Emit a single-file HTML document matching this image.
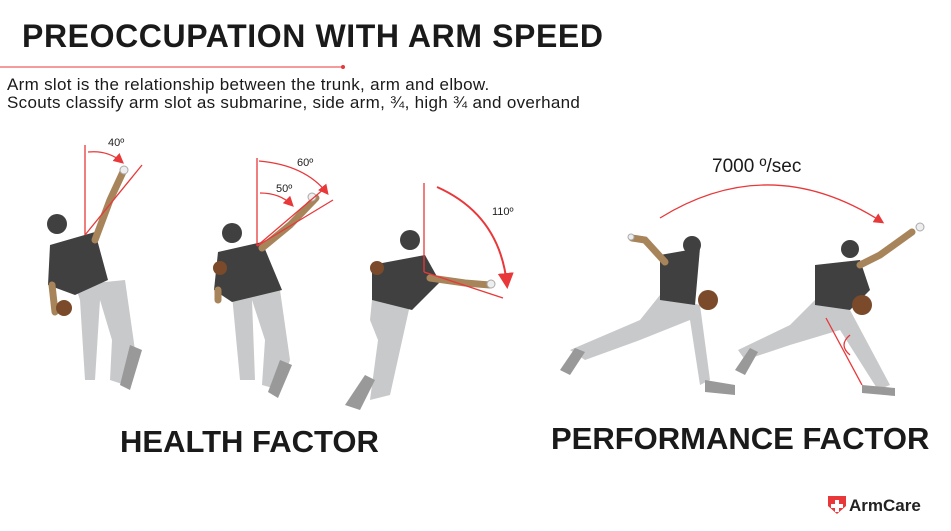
<!DOCTYPE html><html><head><meta charset="utf-8"><style>
body{margin:0;width:951px;height:531px;background:#fff;overflow:hidden;font-family:"Liberation Sans",sans-serif;position:relative;color:#1a1a1a}
.t{position:absolute;white-space:nowrap}
</style></head><body>
<div class="t" style="left:22px;top:18px;font-size:32px;font-weight:bold;letter-spacing:0.6px">PREOCCUPATION WITH ARM SPEED</div>
<div class="t" style="left:7px;top:76px;font-size:17px;line-height:18px;letter-spacing:0.3px">Arm slot is the relationship between the trunk, arm and elbow.<br>Scouts classify arm slot as submarine, side arm, ¾, high ¾ and overhand</div>
<div class="t" style="left:120px;top:424px;font-size:31px;font-weight:bold">HEALTH FACTOR</div>
<div class="t" style="left:551px;top:421px;font-size:31px;font-weight:bold">PERFORMANCE FACTOR</div>
<div class="t" style="left:712px;top:156px;font-size:19px">7000 º/sec</div>
<svg width="951" height="531" style="position:absolute;left:0;top:0">
<defs><marker id="a" markerWidth="8" markerHeight="8" refX="6" refY="4" orient="auto"><path d="M0,0L8,4L0,8z" fill="#e8383a"/></marker></defs>
<line x1="0" y1="67" x2="343" y2="67" stroke="#e8383a" stroke-width="1"/><circle cx="343" cy="67" r="2" fill="#e8383a"/>
<g font-size="11" fill="#222" font-family="Liberation Sans,sans-serif"><text x="108" y="146">40º</text><text x="297" y="166">60º</text><text x="276" y="192">50º</text><text x="492" y="215">110º</text></g>
<g fill="#c8c9cb"><path d="M75,285L125,280L135,350L125,385L110,380L112,340L100,300L95,380L85,380L80,300z"/><path d="M232,295L280,290L290,360L280,390L262,385L265,340L252,300L255,380L240,380z"/><path d="M372,300L410,305L400,350L390,395L370,400L378,340L370,320z"/><path d="M660,295L700,305L710,380L700,385L690,320L640,340L585,360L570,350L640,320z"/><path d="M815,300L850,310L890,385L878,390L840,330L790,345L745,360L738,350L790,325z"/></g>
<g fill="#999"><path d="M120,385L130,345L142,350L130,390z"/><path d="M268,392L280,360L292,365L278,398z"/><path d="M345,405L365,375L375,380L360,410z"/><path d="M560,370L575,348L585,352L570,375z"/><path d="M705,380L735,385L735,395L705,392z"/><path d="M735,370L750,348L758,352L745,375z"/><path d="M862,385L895,388L895,396L862,393z"/></g>
<g fill="#404040"><path d="M50,245L95,232L108,280L75,295L48,285z"/><path d="M218,252L262,242L282,290L232,302L214,290z"/><path d="M372,265L425,255L440,282L412,310L372,300z"/><path d="M660,255L700,248L695,305L660,300z"/><path d="M815,265L860,260L870,290L850,310L815,305z"/><circle cx="57" cy="224" r="10"/><circle cx="232" cy="233" r="10"/><circle cx="410" cy="240" r="10"/><circle cx="692" cy="245" r="9"/><circle cx="850" cy="249" r="9"/></g>
<g stroke="#a8845a" stroke-width="7" stroke-linecap="round" fill="none"><path d="M95,240L110,200L123,172"/><path d="M262,248L290,225L316,198"/><path d="M430,278L465,283L490,285"/><path d="M665,262L645,240L632,238"/><path d="M860,265L880,255L912,232"/><path d="M52,285L55,312"/><path d="M218,290L218,300"/></g>
<g fill="#7a4a2a"><circle cx="64" cy="308" r="8"/><circle cx="220" cy="268" r="7"/><circle cx="377" cy="268" r="7"/><circle cx="708" cy="300" r="10"/><circle cx="862" cy="305" r="10"/></g>
<g fill="#eee" stroke="#aaa"><circle cx="124" cy="170" r="4"/><circle cx="312" cy="197" r="4"/><circle cx="491" cy="284" r="4"/><circle cx="631" cy="237" r="3"/><circle cx="920" cy="227" r="4"/></g>
<g stroke="#e8383a" stroke-width="1.3" fill="none">
<line x1="85" y1="145" x2="85" y2="235"/><line x1="85" y1="235" x2="142" y2="165"/><path d="M88,152Q108,150 122,162" marker-end="url(#a)"/>
<line x1="257" y1="158" x2="257" y2="246"/><line x1="257" y1="246" x2="325" y2="188"/><line x1="257" y1="246" x2="333" y2="200"/><path d="M259,161Q305,165 327,193" marker-end="url(#a)"/><path d="M260,193Q280,193 292,205" marker-end="url(#a)"/>
<line x1="424" y1="183" x2="424" y2="272"/><line x1="424" y1="272" x2="503" y2="298"/><path d="M437,187Q500,215 507,285" stroke-width="2" marker-end="url(#a)"/>
<path d="M660,218Q770,150 882,222" marker-end="url(#a)"/><path d="M850,355Q838,345 850,335"/><line x1="826" y1="318" x2="862" y2="385"/></g>
<path d="M828,496h18v10l-9,8l-9,-8z" fill="#e8383a"/><path d="M835,500h4v4h4v4h-4v4h-4v-4h-4v-4h4z" fill="#fff"/>
<text x="849" y="511" font-size="17" font-weight="bold" fill="#222" font-family="Liberation Sans,sans-serif">ArmCare</text>
</svg>
</body></html>
